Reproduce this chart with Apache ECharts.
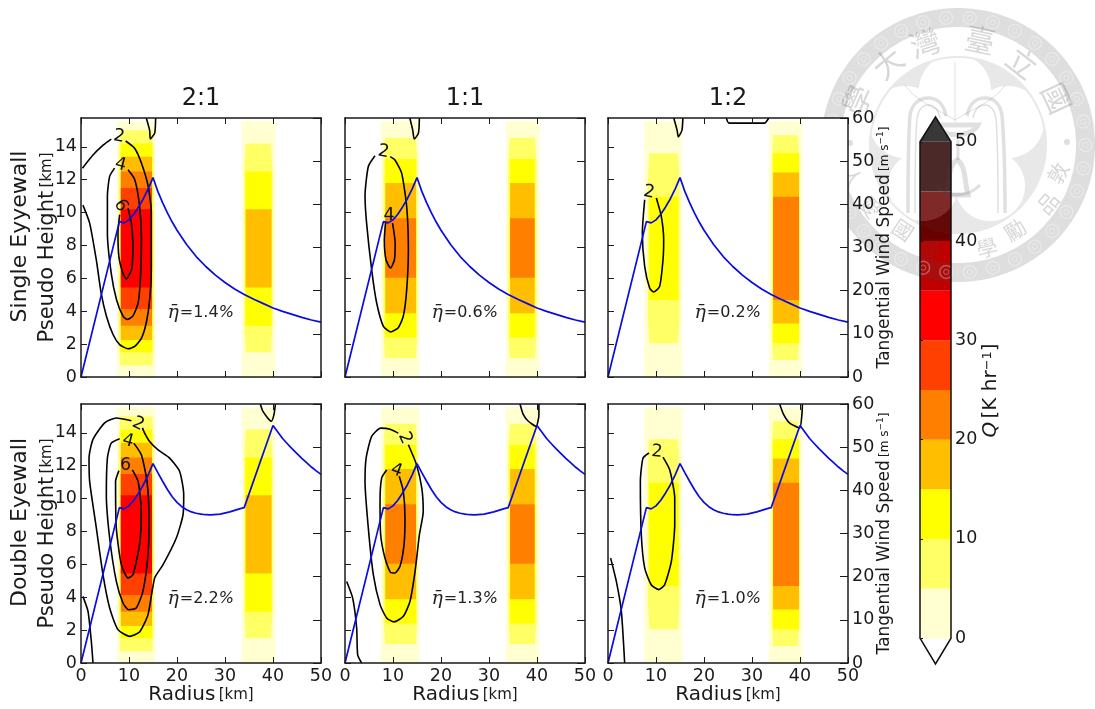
<!DOCTYPE html>
<html><head><meta charset="utf-8">
<style>html,body{margin:0;padding:0;background:#fff}#c{width:1095px;height:709px}</style>
<script src="https://cdn.jsdelivr.net/npm/echarts@6/dist/echarts.min.js"></script>
</head><body><div id="c"></div>
<script>
// ---------- tick labels / text ----------
const columnTitles = ['2:1', '1:1', '1:2'];
const rowTitles = ['Single Eyyewall', 'Double Eyewall'];
const heightTicks = [0, 2, 4, 6, 8, 10, 12, 14];
const etaLabels = ['1.4', '0.6', '0.2', '2.2', '1.3', '1.0'];
const colorbarTicks = [0, 10, 20, 30, 40, 50];

// ---------- Q colour classes, 5 K/hr each ----------
const qColors = ['#ffffd2', '#ffff66', '#ffff00', '#ffbf00', '#ff8000', '#ff4000', '#ff0000', '#bf0000', '#680000', '#2a0000'];
const qEdges = [0, 5, 10, 15, 20, 25, 30, 35, 40, 45, 50];

// ---------- tangential wind: [radius km], [m/s] ----------
const singleRadius = [0, 8, 9, 10, 11, 12, 13, 14, 15, 16, 17, 18, 19, 20, 22, 24, 26, 28, 30, 32, 34, 36, 38, 40, 42, 44, 46, 48, 50];
const singleWind = [0, 36, 35.7, 36.4, 37.7, 39.4, 41.3, 43.6, 46.2, 43, 40.4, 38, 35.9, 34, 30.7, 27.9, 25.6, 23.6, 21.9, 20.4, 19.1, 18, 17, 16, 15.2, 14.5, 13.8, 13.2, 12.7];
const doubleRadius = [0, 8, 9, 10, 11, 12, 13, 14, 15, 16, 17, 18, 19, 20, 21, 22, 23, 24, 25, 26, 27, 29, 31, 33, 34, 40, 41, 42, 43, 44, 45, 46, 47, 48, 49, 50];
const doubleWind = [0, 36, 35.7, 36.4, 37.7, 39.4, 41.3, 43.6, 46.2, 44.1, 42.1, 40.2, 38.5, 37.2, 36.2, 35.5, 35, 34.7, 34.5, 34.35, 34.3, 34.5, 35, 35.7, 36, 55, 53.5, 52, 50.8, 49.6, 48.5, 47.4, 46.4, 45.4, 44.5, 43.7];

// ---------- heating bands: [z0, z1, r0, r1, colour class] per column ----------
const heat21 = [[0,15.55,7.5,15.5,0],[.7,15,7.85,15.2,1],[1.5,14.2,8.3,14.8,2],[2.25,13.4,8.3,14.8,3],[3.12,12.5,8.3,14.8,4],[4.13,11.5,8.3,14.8,5],[5.45,10.2,8.3,14.8,6],
  [0,15.55,33.5,40.5,0],[1.5,14.2,34,39.9,1],[3.12,12.5,34.3,39.7,2],[5.45,10.2,34.3,39.7,3]];
const heat11 = [[0,15.55,7.5,15.5,0],[1.14,14.55,8,15.1,1],[2.4,13.25,8.4,14.8,2],[3.87,11.8,8.4,14.8,3],[6.04,9.65,8.4,14.8,4],
  [0,15.55,33.5,40.5,0],[1.14,14.55,34,39.9,1],[2.4,13.25,34.4,39.5,2],[3.87,11.8,34.4,39.5,3],[6.04,9.65,34.4,39.5,4]];
const heat12 = [[0,15.55,7.5,15.5,0],[2.05,13.6,8.3,14.9,1],[4.68,10.96,8.6,14.7,2],
  [0,15.55,33.5,40.5,0],[1.03,14.7,34.1,39.9,1],[2.05,13.6,34.4,39.8,2],[3.26,12.44,34.4,39.8,3],[4.68,10.96,34.4,39.8,4]];

// ---------- efficiency contours [r, z] ----------
const contoursP1 = [
 [[.3,12.7],[2.5,13.5],[4.6,14.1],[6.3,14.47]],
 [[9.3,14.35],[11.2,13.9],[12.6,13],[14,11.6],[14.65,10],[14.65,6.7],[14.3,4.7],[13.6,3.3],[12.6,2.37],[11.2,1.86],[9.8,1.72],[8.05,1.97],[6.7,2.57],[5.3,3.7],[4.2,5.1],[3.2,7.1],[1.8,9.36],[.4,10.45]],
 [[7,12.7],[5.97,12.2],[5.5,11],[5.5,8.75],[6.3,6.3],[7.4,4.7],[8.75,3.7],[9.6,3.5],[10.8,3.7],[11.9,4.5],[12.4,6.1],[12.6,8.35],[12.2,10.4],[11.2,12],[9.8,12.6]],
 [[8.05,9.87],[7.7,8.75],[7.9,7.3],[8.75,6.3],[9.45,5.96],[10.6,6.6],[10.8,8.15],[10.5,9.36],[9.8,10.27]],
 [[13.6,15.75],[14.3,15],[14.44,14.47],[15.35,14.83],[15.55,15.75]]];
const contoursP2 = [
 [[6.25,13.45],[4.86,12.8],[4.17,11],[4.5,9.36],[5.56,6.52],[6.6,4.5],[8,3.08],[9.5,2.74],[11.1,3],[12.15,3.7],[12.85,5.3],[13.2,7.74],[12.85,10.37],[11.8,12.4],[10.4,13.2],[9.4,13.4]],
 [[8.47,9.46],[8.2,8.35],[8.54,7.13],[9.5,6.63],[10.3,7.13],[10.45,8.15],[9.9,9.36]],
 [[13.5,15.75],[14.1,15.03],[14.44,14.47],[15.3,14.83],[15.5,15.75]]];
const contoursP3 = [
 [[7.64,10.78],[7.15,8.75],[7.64,6.73],[8.68,5.41],[9.5,5.17],[10.75,5.5],[11.46,7.13],[11.6,8.35],[11.1,9.77],[10.07,10.88]],
 [[13.7,15.75],[14.4,15],[14.65,14.6],[15.4,15],[15.6,15.75]],
 [[24.65,15.75],[25.2,15.44],[32.6,15.44],[33.5,15.75]]];
const contoursP4 = [
 [[10.5,14.73],[7.36,14.9],[4.93,14.6],[2.5,13.6],[1.67,12.46],[1.8,11.04],[3.2,8.2],[4.58,5.37],[5.97,3.34],[7.7,2.03],[10.14,1.62],[12.2,1.88],[13.96,2.94],[15.35,5.17],[17.1,5.98],[19.86,7.6],[21.25,9],[21.4,10.23],[20.55,11.65],[18.47,12.46],[16,12.97],[14.3,13.47],[13.26,13.98],[12.8,14.3]],
 [[8.05,13.64],[6.3,13.37],[5.5,12.46],[5.28,10.23],[5.97,7.6],[7.36,4.96],[8.75,3.65],[9.93,3.24],[11.5,3.34],[12.9,4.36],[13.96,6.58],[14.17,8.8],[13.75,11.04],[12.57,12.66],[11,13.37]],
 [[7.9,11.7],[7.2,11.04],[7.36,8.2],[8.4,5.98],[9.8,5.17],[10.83,5.37],[12.2,7.2],[12.57,9.2],[11.9,11.04],[10.7,11.75]],
 [[37.36,15.75],[37.9,15.3],[39.65,14.7],[40.2,15.1],[40.5,15.75]],
 [[.4,4.05],[1.46,3.14],[2.15,1.32],[2.5,0]]];
const contoursP5 = [
 [[11.1,13.98],[9.4,14.22],[7.43,14.28],[5.56,13.78],[4.4,12.46],[4.17,11.04],[4.86,8.2],[5.9,5.37],[7.3,3.55],[8.68,2.74],[10.2,2.5],[12.15,2.84],[13.54,3.75],[14.6,5.57],[15.5,7.8],[16.3,9.22],[16,10.64],[14.9,12.06],[13.2,13.27]],
 [[8.68,11.73],[7.64,11.25],[7.3,9.83],[7.43,7.8],[8.33,6.38],[9.5,5.5],[10.4,5.47],[11.46,5.88],[12.3,7.2],[12.5,8.8],[12.15,10.44],[11.3,11.35]],
 [[36.46,15.75],[37.15,15.1],[38.2,14.7],[39.8,14.39],[40.4,15.1],[40.4,15.75]],
 [[.35,4.96],[1.6,3.95],[2.43,2.13],[2.64,.5],[3.47,0]]];
const contoursP6 = [
 [[8.54,12.77],[7.3,12.46],[6.74,11.04],[6.94,7.8],[7.64,5.78],[9,4.76],[10.6,4.46],[11.8,4.76],[13.2,6.18],[13.9,8.4],[13.9,10.03],[12.85,11.75],[11.46,12.52]],
 [[35.76,15.75],[36.6,15.1],[37.85,14.59],[39.93,14.29],[40.4,15.1],[40.5,15.75]],
 [[.55,6.38],[1.74,4.96],[2.78,3.14],[3.47,0]]];

// ---------- contour labels: [r, z, text, tilt deg] ----------
const labelsP1 = [[7.9,14.63,'2',-10],[8.26,12.9,'4',-15],[8.26,10.43,'6',-60]];
const labelsP2 = [[8,13.7,'2',-10],[9.17,9.8,'4',0]];
const labelsP3 = [[8.54,11.23,'2',-10]];
const labelsP4 = [[11.9,14.53,'2',-25],[9.8,13.5,'4',-15],[9.3,12,'6',0]];
const labelsP5 = [[12.5,13.68,'2',-65],[10.76,11.7,'4',-20]];
const labelsP6 = [[10.2,12.83,'2',-5]];

const FF = '"DejaVu Sans"';
const INK = '#1a1a1a';
const panelLeft = [81, 345, 608], panelTop = [118, 404], panelW = 240, panelH = 259;
const heats = [heat21, heat11, heat12];
const contours = [contoursP1, contoursP2, contoursP3, contoursP4, contoursP5, contoursP6];
const labels = [labelsP1, labelsP2, labelsP3, labelsP4, labelsP5, labelsP6];

const grid = [], xAxis = [], yAxis = [], series = [], title = [];
const axisLine = {show: true, onZero: false, lineStyle: {color: INK, width: 1.5}};

for (let row = 0; row < 2; row++) for (let col = 0; col < 3; col++) {
  const g = grid.length, p = row * 3 + col, xb = xAxis.length, yl = yAxis.length;
  grid.push({left: panelLeft[col], top: panelTop[row], width: panelW, height: panelH, show: true,
    backgroundColor: '#fff', borderWidth: 0, z: 5});
  const tickStyle = {show: true, inside: true, length: 6, lineStyle: {color: INK, width: 1}};
  xAxis.push({gridIndex: g, type: 'value', min: 0, max: 50, interval: 10, position: 'bottom', z: 10,
    axisLine, axisTick: tickStyle, splitLine: {show: false},
    axisLabel: {show: row === 1, fontFamily: FF, fontSize: 17.5, color: INK, margin: 4},
    name: row === 1 ? '{a|Radius} {b|[km]}' : '', nameLocation: 'middle', nameGap: 22, nameMoveOverlap: false,
    nameTextStyle: {rich: {a: {fontFamily: FF, fontSize: 20, color: INK}, b: {fontFamily: FF, fontSize: 15, color: INK}}}});
  xAxis.push({gridIndex: g, type: 'value', min: 0, max: 50, interval: 10, position: 'top', z: 10,
    axisLine, axisTick: tickStyle, splitLine: {show: false}, axisLabel: {show: false}});
  yAxis.push({gridIndex: g, type: 'value', min: 0, max: 15.75, position: 'left', z: 10,
    axisLine, splitLine: {show: false},
    axisTick: Object.assign({}, tickStyle, {customValues: heightTicks}),
    axisLabel: {show: col === 0, customValues: heightTicks, fontFamily: FF, fontSize: 17.5, color: INK, margin: 4},
    name: col === 0 ? '{a|Pseudo Height} {b|[km]}' : '', nameLocation: 'middle', nameGap: 23, nameRotate: 90, nameMoveOverlap: false,
    nameTextStyle: {rich: {a: {fontFamily: FF, fontSize: 21, color: INK}, b: {fontFamily: FF, fontSize: 15, color: INK}}}});
  yAxis.push({gridIndex: g, type: 'value', min: 0, max: 60, interval: 10, position: 'right', z: 10,
    axisLine, splitLine: {show: false},
    axisTick: Object.assign({}, tickStyle, {length: 8}),
    axisLabel: {show: col === 2, fontFamily: FF, fontSize: 17.5, color: INK, margin: 4},
    name: col === 2 ? '{a|Tangential Wind Speed} {b|[m s}{c|−1}{b|]}' : '', nameLocation: 'middle', nameGap: 28, nameRotate: 90, nameMoveOverlap: false,
    nameTextStyle: {rich: {a: {fontFamily: FF, fontSize: 17, color: INK}, b: {fontFamily: FF, fontSize: 12, color: INK}, c: {fontFamily: FF, fontSize: 9, color: INK, verticalAlign: 'top', lineHeight: 15}}}});

  // heating polygons
  series.push({type: 'custom', coordinateSystem: 'cartesian2d', xAxisIndex: xb, yAxisIndex: yl, z: 6, silent: true,
    data: heats[col].map(b => b.slice()), encode: {x: [2, 3], y: [0, 1]},
    renderItem(params, api) {
      const z0 = api.value(0), z1 = api.value(1), r0 = api.value(2), r1 = api.value(3), c = api.value(4);
      const cut = c === 1 ? .35 : 0;
      const pts = c === 1
        ? [[r0 + cut, z0], [r0, z0 + 1.6], [r0, z1 - 1.6], [r0 + cut, z1], [r1 - cut, z1], [r1, z1 - 1.6], [r1, z0 + 1.6], [r1 - cut, z0]]
        : [[r0, z0], [r0, z1], [r1, z1], [r1, z0]];
      return {type: 'polygon', shape: {points: pts.map(q => api.coord(q))}, style: {fill: qColors[c]}};
    }});
  // contours
  contours[p].forEach(line => series.push({type: 'line', xAxisIndex: xb, yAxisIndex: yl, z: 7, silent: true,
    data: line, showSymbol: false, symbol: 'none', smooth: .2, clip: true, lineStyle: {color: '#000', width: 1.6}}));
  // contour labels
  series.push({type: 'custom', coordinateSystem: 'cartesian2d', xAxisIndex: xb, yAxisIndex: yl, z: 8, silent: true,
    data: labels[p].map(l => [l[0], l[1], l[3]]), encode: {x: 0, y: 1},
    renderItem(params, api) {
      const q = api.coord([api.value(0), api.value(1)]);
      return {type: 'text', x: q[0], y: q[1], rotation: api.value(2) * Math.PI / 180,
        style: {text: labels[p][params.dataIndex][2], fontFamily: FF, fontSize: 17.5, fill: '#111', align: 'center', verticalAlign: 'middle'}};
    }});
  // wind
  series.push({type: 'line', xAxisIndex: xb, yAxisIndex: yl + 1, z: 9, silent: true, showSymbol: false, symbol: 'none', clip: true,
    data: (row ? doubleRadius : singleRadius).map((r, i) => [r, (row ? doubleWind : singleWind)[i]]),
    lineStyle: {color: '#0a0ae6', width: 1.7}});
  // efficiency note
  series.push({type: 'custom', coordinateSystem: 'cartesian2d', xAxisIndex: xb, yAxisIndex: yl, z: 9, silent: true,
    data: [[18, 3.9]], encode: {x: 0, y: 1},
    renderItem(params, api) {
      const q = api.coord([api.value(0), api.value(1)]);
      return {type: 'text', x: q[0], y: q[1], style: {text: '{a|\u03B7\u0304}{b|=' + etaLabels[p] + '}{c|%}',
        rich: {a: {fontFamily: '"DejaVu Serif"', fontStyle: 'italic', fontSize: 19, fill: '#222', padding: [0, 1, 0, 0]},
               b: {fontFamily: FF, fontSize: 16, fill: '#222'}, c: {fontFamily: FF, fontStyle: 'italic', fontSize: 16, fill: '#222'}},
        align: 'left', verticalAlign: 'middle'}};
    }});
}
columnTitles.forEach((t, i) => title.push({text: t, left: panelLeft[i] + panelW / 2 - 5, top: 82, textAlign: 'center',
  textStyle: {fontFamily: FF, fontWeight: 'normal', fontSize: 24, color: INK}}));

// ---------- colour bar ----------
const cbG = grid.length;
const cbMin = -2.6, cbMax = 52.5;
grid.push({left: 920, top: 117, width: 31, height: 547, show: false});
xAxis.push({gridIndex: cbG, type: 'value', min: 0, max: 1, show: false});
yAxis.push({gridIndex: cbG, type: 'value', min: cbMin, max: cbMax, position: 'right', z: 10,
  axisLine: {show: false}, splitLine: {show: false},
  axisTick: {show: true, length: 3, customValues: colorbarTicks, lineStyle: {color: INK, width: 1}},
  axisLabel: {customValues: colorbarTicks, fontFamily: FF, fontSize: 17.5, color: INK, margin: 4},
  name: '{q|Q} {a|[K hr}{c|−1}{a|]}', nameLocation: 'middle', nameGap: 30, nameRotate: 90, nameMoveOverlap: false,
  nameTextStyle: {rich: {q: {fontFamily: FF, fontStyle: 'italic', fontSize: 20, color: INK}, a: {fontFamily: FF, fontSize: 20, color: INK},
    c: {fontFamily: FF, fontSize: 13, color: INK, verticalAlign: 'top', lineHeight: 18}}}});
const cbx = xAxis.length - 1, cby = yAxis.length - 1;
series.push({type: 'custom', coordinateSystem: 'cartesian2d', xAxisIndex: cbx, yAxisIndex: cby, z: 1, silent: true, clip: false,
  data: qColors.map((c, i) => [qEdges[i], qEdges[i + 1]]), encode: {y: [0, 1]},
  renderItem(params, api) {
    const a = api.coord([0, api.value(0)]), b = api.coord([1, api.value(1)]);
    return {type: 'rect', shape: {x: a[0], y: b[1], width: b[0] - a[0], height: a[1] - b[1]}, style: {fill: qColors[params.dataIndex]}};
  }});
series.push({type: 'custom', coordinateSystem: 'cartesian2d', xAxisIndex: cbx, yAxisIndex: cby, z: 1, silent: true, clip: false,
  data: [[50, cbMax]], encode: {y: [0, 1]},
  renderItem(params, api) {
    return {type: 'polygon', shape: {points: [[0, 50], [.5, cbMax], [1, 50]].map(q => api.coord(q))}, style: {fill: '#111'}};
  }});
// outline above the watermark
series.push({type: 'custom', coordinateSystem: 'cartesian2d', xAxisIndex: cbx, yAxisIndex: cby, z: 9, silent: true, clip: false,
  data: [[0, 50]], encode: {y: [0, 1]},
  renderItem(params, api) {
    return {type: 'polygon', shape: {points: [[0, 0], [.5, cbMin], [1, 0], [1, 50], [.5, cbMax], [0, 50]].map(q => api.coord(q))},
      style: {fill: 'none', stroke: '#111', lineWidth: 1.5}};
  }});

// ---------- watermark (university seal) ----------
const SX = 958, SY = 145;
const ringFill = 'rgba(72,72,72,0.18)', discFill = 'rgba(72,72,72,0.125)';
function circlePts(r, rev) {
  const a = [];
  for (let i = 0; i < 240; i++) { const t = (rev ? -1 : 1) * i / 240 * 2 * Math.PI; a.push([SX + r * Math.cos(t), SY + r * Math.sin(t)]); }
  return a;
}
const toPath = pts => 'M' + pts.map(q => q[0].toFixed(1) + ' ' + q[1].toFixed(1)).join('L') + 'Z';
// flower outline: ray casting against five lobes and the hub
const lobes = [[955, 90, 36], [1008, 122, 36], [990, 186, 35], [923, 186, 35], [905, 122, 36], [958, 145, 46]];
function flowerPts() {
  const a = [];
  for (let i = 0; i < 360; i++) {
    const t = -i / 360 * 2 * Math.PI, dx = Math.cos(t), dy = Math.sin(t);
    let best = 0;
    lobes.forEach(l => {
      const fx = SX - l[0], fy = SY - l[1], bb = fx * dx + fy * dy, cc = fx * fx + fy * fy - l[2] * l[2], d = bb * bb - cc;
      if (d >= 0) best = Math.max(best, -bb + Math.sqrt(d));
    });
    a.push([SX + Math.min(best, 87) * dx, SY + Math.min(best, 87) * dy]);
  }
  return a;
}
const sealZ = 2;
const sealChildren = [
  {type: 'path', shape: {pathData: toPath(circlePts(137)) + toPath(circlePts(118, true))}, style: {fill: ringFill}},
  {type: 'path', shape: {pathData: toPath(circlePts(89)) + toPath(flowerPts())}, style: {fill: discFill}},
  {type: 'path', shape: {pathData: toPath(flowerPts())}, style: {fill: 'rgba(255,255,255,0.16)'}}
];
const graphics = [];
for (let i = 0; i < 34; i++) {
  const t = i / 34 * 2 * Math.PI;
  const cx = SX + 127.5 * Math.cos(t), cy = SY + 127.5 * Math.sin(t);
  sealChildren.push({type: 'circle', shape: {cx, cy, r: 6.5}, style: {fill: 'none', stroke: 'rgba(255,255,255,0.3)', lineWidth: 1.5}});
  sealChildren.push({type: 'circle', shape: {cx, cy, r: 2.6}, style: {fill: 'none', stroke: 'rgba(255,255,255,0.3)', lineWidth: 1}});
}
// characters: [char, cx, cy, clockwise degrees, size]
const sealChars = [['國',1057,98,65,30],['立',1022,63,38,30],['臺',980,40,12,30],['灣',925,43,-18,30],['大',888,63,-40,30],['學',857,100,-66,30],
  ['敦',1058,173,-62,21],['品',1048,203,-50,21],['勵',1015,230,-34,21],['學',987,248,-14,21],
  ['人',852,177,62,21],['愛',870,207,50,21],['國',903,230,34,21],['愛',930,250,14,21]];
sealChars.forEach(c => graphics.push({type: 'text', z: sealZ, silent: true, x: c[1], y: c[2], rotation: -c[3] * Math.PI / 180,
  style: {text: c[0], fontFamily: '"Noto Sans CJK TC"', fontSize: c[4], fill: 'rgba(72,72,72,0.22)', align: 'center', verticalAlign: 'middle'}}));
[[850, 143], [1067, 142]].forEach(d => graphics.push({type: 'circle', z: sealZ, silent: true, shape: {cx: d[0], cy: d[1], r: 3}, style: {fill: ringFill}}));
// emblem strokes
const emblem = [
  ['M908 213C908 170 908 140 910 115C912 103 920 98 928 98C937 98 944 104 946 116', 3.5],
  ['M915 213C915 170 915 140 917 118C919 108 923 105 928 105C933 105 938 108 940 118', 1.5],
  ['M1005 213C1005 170 1004 140 1002 115C1000 103 993 98 985 98C976 98 969 104 967 116', 3.5],
  ['M998 213C998 170 998 140 996 118C994 108 990 105 985 105C980 105 975 108 973 118', 1.5],
  ['M955 62L955 122', 1],
  ['M955 120C930 105 915 100 905 85', 1], ['M955 120C980 105 995 100 1005 85', 1],
  ['M935 125C940 138 972 138 978 125Z', 5],
  ['M958 140L958 160', 3],
  ['M946 195C950 180 948 165 957 160C966 165 964 180 968 195Z', 5],
  ['M936 185C945 198 968 198 980 185', 3]
];
emblem.forEach(e => sealChildren.push({type: 'path', shape: {pathData: e[0]}, style: {fill: 'none', stroke: 'rgba(72,72,72,0.17)', lineWidth: e[1]}}));
series.push({type: 'custom', coordinateSystem: 'none', z: sealZ, silent: true, data: [[0]],
  renderItem() { return {type: 'group', children: sealChildren}; }});
// row titles
rowTitles.forEach((t, i) => graphics.push({type: 'text', z: 11, silent: true, x: 20, y: panelTop[i] + panelH / 2 - 11, rotation: Math.PI / 2,
  style: {text: t, fontFamily: FF, fontSize: 22, fill: INK, align: 'center', verticalAlign: 'middle'}}));

const chart = echarts.init(document.getElementById('c'), null, {renderer: 'canvas'});
chart.setOption({animation: false, backgroundColor: '#fff', title, grid, xAxis, yAxis, series, graphic: {elements: graphics}});
</script></body></html>
